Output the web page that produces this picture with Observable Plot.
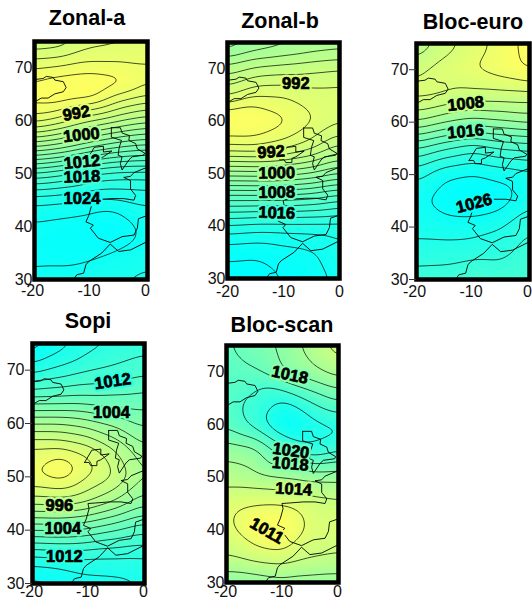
<!DOCTYPE html>
<html><head><meta charset="utf-8">
<script src="https://cdn.jsdelivr.net/npm/d3@7"></script>
<script src="https://cdn.jsdelivr.net/npm/@observablehq/plot@0.6"></script>
<style>
html,body{margin:0;padding:0;background:#fff;width:532px;height:599px;overflow:hidden}
#root{position:relative;width:532px;height:599px;overflow:hidden;font-family:"Liberation Sans",Arial,sans-serif}
.t{position:absolute;font-weight:bold;font-size:21.5px;line-height:24px;color:#000;transform:translateX(-50%);white-space:nowrap}
svg{overflow:visible}
</style></head><body><div id="root"></div>
<script>
const lons=[-20,-15,-10,-5,0];
const lats=[75,70,65,60,55,50,45,40,35,30];
const zonalA=[
[996,995.5,993,992.5,992],
[990,989.5,989,989.2,989.5],
[986.5,986,986.4,990,991.7],
[991,993,995.8,997.7,999.3],
[1002,1003.5,1006,1008,1009],
[1014.5,1015.8,1018,1019,1019],
[1023.5,1023.9,1024.4,1024.2,1023.7],
[1026.6,1027,1027.4,1027.7,1025.3],
[1026.8,1027,1027,1025.6,1024.8],
[1025.3,1025,1023.8,1024,1023.5]];
const extraA=[[-5,67.5,986.6],[-10,67.5,986.2],[-15,66.5,986],[0,67.5,989.5],[-6,40,1028.6]];
const zonalB=[
[1004,1002,1001,1000,999.5],
[997,995.5,995,994.5,994],
[992.5,990,990,991,991],
[985,985.2,987.2,989.5,991.5],
[990.3,990,991,993,996.5],
[1001,1000.8,1001,1002,1004],
[1012,1012,1012,1012.5,1014],
[1020.5,1021,1021,1021,1021],
[1025.5,1025.8,1025,1024.4,1022.5],
[1027,1027,1026,1025,1023.5]];
const extraB=[];
const blocEuro=[
[1010,1007,1005,1003.2,1001],
[1006.5,1005,1003.8,1002.8,1001.5],
[1005.3,1006,1006.7,1006.8,1006.8],
[1010,1011.8,1013,1012.3,1011.5],
[1018,1020,1021.5,1020,1019.5],
[1023.4,1025.8,1026.4,1025.6,1024.8],
[1025.6,1027.2,1027.6,1027.2,1024.6],
[1024.8,1025,1025,1024,1022.2],
[1023,1023,1022.7,1022.8,1020.8],
[1021,1020.8,1019.7,1020.4,1020.8]];
const extraE=[];
const sopi=[
[1017.5,1015,1012.8,1011.8,1011],
[1013,1011.5,1010.2,1009.5,1008.6],
[1006.3,1006.2,1006,1005.8,1005.4],
[998,998,999,1000.5,1002.5],
[991.3,991.3,992.7,996,999.5],
[990,989,992,994,998],
[995.5,995.2,996.2,998.5,1001.5],
[1004,1003.8,1004.5,1006,1007.5],
[1012.5,1012,1012,1012,1012],
[1017,1016.5,1015,1014.8,1014]];
const extraS=[[-15,52,987.6],[-20,52,990.4],[-10,52,991]];
const blocScan=[
[1020.3,1018.8,1017.5,1015,1013],
[1021,1020.3,1017.8,1016.5,1015],
[1021,1022.6,1024,1021.5,1019.5],
[1020.5,1022.8,1026.4,1025,1023.8],
[1016.5,1017,1021,1023.6,1022.2],
[1015,1015.5,1016,1016.5,1016.5],
[1012.5,1012,1012,1013,1013.5],
[1012.5,1010.5,1009.5,1012.5,1012.6],
[1014,1013,1012.5,1013.7,1014.2],
[1017.5,1017.5,1017,1017,1017]];
const extraC=[[0,58.7,1024.4],[-15,62.5,1023],[-9,60.5,1027]];

const iceland=[[-20,67.8],[-18.5,68],[-17.9,68.4],[-16.7,68.2],[-16.4,67.7],[-14.9,67.4],[-14.4,66.3],[-14.9,65.5],[-16.4,65.1],[-17.6,64.3],[-18.8,64.3],[-19.6,63.8],[-20,63.6]];
const britain=[[-6.4,58.7],[-4.8,58.7],[-4.5,57.7],[-3.2,57.2],[-3.3,56.3],[-2.1,55.7],[-1.8,54.7],[-.5,53.9],[-.7,53.5],[-2.7,53.2],[-3.3,52.6],[-4.5,50.7],[-4.8,51.9],[-4.5,53.2],[-5.2,53.5],[-5,55],[-4.6,56.3],[-6.4,56.9],[-6.4,58.7]];
const ireland=[[-10.7,52.7],[-9.4,55],[-7.8,55.2],[-7.8,54.1],[-6.3,54.3],[-7.8,53.2],[-8.5,52.9],[-8.5,52.1],[-9.6,52.1],[-9.9,52.7],[-10.7,52.7]];
const france=[[0,51.2],[-.8,50.9],[-2.4,50.2],[-3,49.5],[-4.2,49.3],[-3,48.7],[-3,47.1],[-2.1,45.9],[-2.4,45],[-4.2,45.3],[-6.3,45.3],[-8.7,45.1],[-10.1,45],[-9.9,44],[-10.4,42.1],[-10.9,40.9],[-9.6,40.3],[-10.1,39.7],[-8.7,37.8],[-6.6,37],[-4.5,38.1],[-2.4,38.4],[-1.8,39.7],[-1.6,41.5],[0,42.1]];
const africa=[[0,37.2],[-3,35.6],[-5.1,35.3],[-6.6,36.7],[-8.1,35],[-10.4,33.4],[-10.9,32.8],[-11.3,31.2],[-12.5,30.9],[-13.1,30]];
const coasts=[iceland,britain,ireland,france,africa];

const titles=["Zonal-a","Zonal-b","Bloc-euro","Sopi","Bloc-scan"];
const fields=[zonalA,zonalB,blocEuro,sopi,blocScan];
const extras=[extraA,extraB,extraE,extraS,extraC];
const labelA=[[992,-12.6,61.4,-10],[1000,-11.7,57.3,-6],[1012,-11.6,52.2,-5],[1018,-11.6,49.4,-2],[1024,-11.6,45.3,0]];
const labelB=[[992,-7.8,67.1,0],[992,-12.2,54.1,-4],[1000,-11.2,50.1,-1],[1008,-11.2,46.4,-1],[1016,-11.2,42.5,2]];
const labelE=[[1008,-11.3,63.5,-6],[1016,-11.3,58.2,-5],[1026,-9.8,44.5,-15]];
const labelS=[[1012,-5.7,67.9,-8],[1004,-5.9,62,0],[996,-15.2,44.5,0],[1004,-14.6,40.2,0],[1012,-14.3,35,0]];
const labelC=[[1018,-8.7,69.4,12],[1020,-8.5,55,8],[1018,-8.6,52.5,5],[1014,-8,47.7,3],[1011,-12.8,39.8,30]];
const labels=[labelA,labelB,labelE,labelS,labelC];
const xTicks=[-20,-10,0];
const yTicks=[30,40,50,60,70];
const colorRange=["#ffff60","#00ffff"];

const layout=[
 {l:34,r:147,t:41,b:279,tx:87,ty:18,ts:0,dx:-2,ly:290},
 {l:227,r:339,t:42,b:278,tx:280,ty:21,ts:0,dx:0,ly:291},
 {l:416,r:529,t:43,b:279,tx:473,ty:22,ts:7,dx:-2,ly:291},
 {l:32,r:144,t:343,b:583,tx:88,ty:321,ts:7,dx:-1,ly:591},
 {l:226,r:338,t:345,b:582,tx:282,ty:325,ts:0,dx:-1,ly:591}];

const root=document.getElementById("root");
const mL=40,mR=12,mT=8,mB=24;
fields.forEach((f,i)=>{
  const L=layout[i];
  const pts=[];
  f.forEach((row,r)=>row.forEach((v,c)=>pts.push({lon:lons[c],lat:lats[r],v})));
  extras[i].forEach(([lon,lat,v])=>pts.push({lon,lat,v}));
  const ext=d3.extent(pts,d=>d.v);
  const lab=labels[i].map(([v,lon,lat,rot])=>({v,lon,lat,rot,s:String(v)}));
  const chart=Plot.plot({
    width:(L.r-L.l)+mL+mR,height:(L.b-L.t)+mT+mB,
    marginLeft:mL,marginRight:mR,marginTop:mT,marginBottom:mB,
    style:{fontFamily:"Liberation Sans, Arial, sans-serif",position:"absolute",left:(L.l-mL)+"px",top:(L.t-mT)+"px"},
    x:{domain:[-20,0]},y:{domain:[30,75]},
    color:{type:"linear",domain:[ext[0]+1,ext[1]-.6],range:colorRange,interpolate:d3.interpolateRgb,clamp:true},
    marks:[
      Plot.raster(pts,{x:"lon",y:"lat",fill:"v",interpolate:"barycentric",pixelSize:1,blur:7}),
      Plot.contour(pts,{x:"lon",y:"lat",value:"v",interval:2,interpolate:"barycentric",pixelSize:1,blur:7,stroke:"#000",strokeWidth:.7}),
      ...coasts.map(c=>Plot.line(c,{x:d=>d[0],y:d=>d[1],stroke:"#000",strokeWidth:.9,clip:"frame"})),
      Plot.text(lab,{x:"lon",y:"lat",text:"s",rotate:"rot",fontSize:16.5,fontWeight:"bold",fill:"none",stroke:d=>d.v,strokeWidth:5}),
      Plot.text(lab,{x:"lon",y:"lat",text:"s",rotate:"rot",fontSize:16.5,fontWeight:"bold",fill:"#000",stroke:"#000",strokeWidth:.7}),
      Plot.frame({stroke:"#000",strokeWidth:4.5}),
      Plot.axisX(xTicks,{anchor:"bottom",tickSize:0,tickPadding:0,fontSize:16,fill:"#111",dx:L.dx,dy:L.ly-L.b-6,tickFormat:d=>String(d),label:null}),
      Plot.axisY(yTicks,{anchor:"left",tickSize:L.ts,tickPadding:L.ts?1:2,fontSize:16,fill:"#111",tickFormat:d=>String(d),stroke:"#333",label:null})
    ]
  });
  root.appendChild(chart);
  const t=document.createElement("div");
  t.className="t";t.textContent=titles[i];
  t.style.left=L.tx+"px";t.style.top=(L.ty-12)+"px";
  root.appendChild(t);
});
</script></body></html>
